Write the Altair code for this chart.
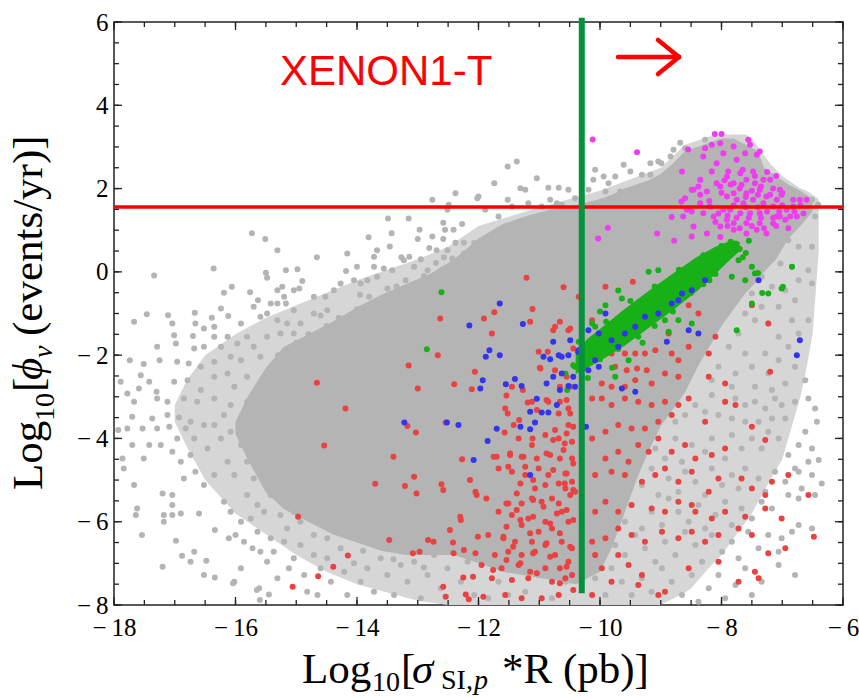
import altair as alt
import pandas as pd

# ---------------- axis ranges / ticks ----------------
X_DOMAIN = [-18, -6]
Y_DOMAIN = [-8, 6]
X_LABELS = [-18, -16, -14, -12, -10, -8, -6]
Y_LABELS = [-8, -6, -4, -2, 0, 2, 4, 6]
X_MINOR = [-18, -17.5, -17, -16.5, -16, -15.5, -15, -14.5, -14, -13.5, -13, -12.5,
           -12, -11.5, -11, -10.5, -10, -9.5, -9, -8.5, -8, -7.5, -7, -6.5, -6]
Y_MINOR = [-8, -7.5, -7, -6.5, -6, -5.5, -5, -4.5, -4, -3.5, -3, -2.5, -2, -1.5, -1,
           -0.5, 0, 0.5, 1, 1.5, 2, 2.5, 3, 3.5, 4, 4.5, 5, 5.5, 6]

# reference lines
XENON_LIMIT = [1.56]
CUT_X = [-10.3]
CUT_Y_TOP = [6.1]
CUT_Y_BOT = [-7.72]

# ---------------- half-filled outer envelope of the grey cloud ----------------
halo_x = [-17.0, -16.8, -16.5, -16.0, -15.5, -15.0, -14.5, -14.0, -13.5, -13.0, -12.5, -12.0,
          -11.0, -10.0, -9.0, -8.6, -8.5, -8.2, -8.0, -7.6, -7.5, -7.2, -7.0, -6.9,
          -6.7, -6.6, -6.5, -6.4]
halo_lo = [-3.6, -4.2, -5.0, -5.8, -6.3, -6.8, -7.2, -7.5, -7.7, -7.9, -8.0, -8.0,
           -8.0, -8.0, -8.0, -7.7, -7.6, -7.1, -6.8, -6.0, -5.8, -5.0, -4.5, -4.0,
           -3.0, -2.3, -1.5, 0.5]
halo_hi = [-3.2, -2.6, -2.0, -1.5, -1.1, -0.8, -0.5, -0.2, 0.05, 0.3, 0.6, 1.1,
           1.55, 1.95, 2.5, 3.05, 3.1, 3.25, 3.3, 3.3, 3.2, 2.6, 2.3, 2.2,
           2.0, 1.95, 1.85, 1.75]

# ---------------- dense grey core ----------------
core_x = [-16.0, -15.8, -15.5, -15.2, -14.8, -14.4, -14.0, -13.6, -13.2, -12.8, -12.4,
          -12.0, -11.6, -11.2, -10.8, -10.4, -10.0, -9.8, -9.6, -9.4, -9.2, -9.0, -8.8,
          -8.6, -8.4, -8.2, -8.0, -7.8, -7.6, -7.4, -7.3, -7.1, -6.9, -6.7, -6.5]
core_lo = [-3.9, -4.5, -5.3, -5.7, -6.0, -6.3, -6.5, -6.7, -6.8, -6.8, -6.8,
           -7.0, -7.2, -7.3, -7.4, -7.5, -7.2, -6.6, -5.8, -5.0, -4.3, -3.7, -3.3,
           -2.9, -2.3, -1.8, -1.3, -0.9, -0.5, -0.2, 0.0, 0.3, 0.8, 1.1, 1.45]
core_hi = [-3.6, -3.0, -2.3, -1.8, -1.5, -1.2, -0.85, -0.55, -0.3, -0.05, 0.3,
           0.8, 1.15, 1.35, 1.5, 1.6, 1.75, 1.85, 2.0, 2.1, 2.2, 2.35, 2.6,
           2.9, 3.0, 3.1, 3.2, 3.2, 3.05, 2.9, 2.5, 2.3, 2.1, 1.95, 1.75]

# ---------------- dense green band ----------------
band_x = [-10.4, -10.2, -9.9, -9.6, -9.2, -8.8, -8.4, -8.1, -7.85, -7.7]
band_lo = [-2.45, -2.3, -2.05, -1.78, -1.35, -0.92, -0.46, -0.05, 0.3, 0.5]
band_hi = [-1.9, -1.6, -1.25, -0.9, -0.46, -0.04, 0.36, 0.6, 0.75, 0.72]

# ---------------- scattered points ----------------
gray_pts = [
    (-12.76, 1.73), (-12.38, 1.89), (-12.49, 1.61), (-12.51, 1.49), (-12.02, 1.77), (-13.49, 1.28),
    (-13.15, 1.28), (-12.58, 1.18), (-12.27, 1.15), (-15.73, 0.93), (-15.51, 0.79), (-15.31, 0.52),
    (-13.81, 0.83), (-13.43, 0.93), (-12.97, 1.01), (-13.0, 0.79), (-12.76, 0.85), (-12.55, 1.01),
    (-12.41, 1.01), (-12.58, 0.79), (-12.38, 0.70), (-12.24, 0.70), (-12.81, 0.57), (-12.69, 0.52),
    (-12.51, 0.52), (-12.24, 0.44), (-12.07, 0.69), (-14.66, 0.35), (-14.16, 0.44), (-13.46, 0.61),
    (-13.67, 0.52), (-13.72, 0.36), (-13.27, 0.35), (-13.14, 0.36), (-16.36, 0.08), (-17.34, -0.09),
    (-15.17, 0.04), (-14.98, 0.06), (-15.5, -0.02), (-15.48, -0.14), (-14.9, -0.22), (-14.18, 0.02),
    (-14.0, 0.12), (-13.72, 0.12), (-13.56, 0.08), (-13.42, 0.04), (-13.23, 0.28), (-13.06, 0.12),
    (-12.84, 0.04), (-12.70, 0.21), (-12.57, 0.35), (-12.43, 0.32), (-12.29, 0.21), (-12.13, 0.04),
    (-16.19, -0.50), (-16.06, -0.36), (-15.76, -0.49), (-15.63, -0.68), (-15.70, -0.84), (-15.31, -0.44),
    (-15.23, -0.36), (-15.20, -0.60), (-15.04, -0.44), (-14.95, -0.40), (-15.42, -0.76), (-15.31, -0.76),
    (-15.17, -0.76), (-15.04, -0.92), (-14.71, -0.60), (-14.52, -0.60), (-14.38, -0.44), (-14.27, -0.28),
    (-14.05, -0.20), (-13.94, -0.28), (-13.83, -0.20), (-13.67, -0.12), (-16.24, -0.88), (-16.12, -1.06),
    (-15.91, -1.24), (-15.59, -1.08), (-15.48, -1.0), (-15.31, -1.16), (-15.15, -1.24), (-14.93, -1.24),
    (-14.71, -1.0), (-14.49, -0.92), (-17.46, -1.02), (-17.67, -1.20), (-17.11, -1.04), (-17.04, -1.24),
    (-16.67, -0.98), (-16.66, -1.24), (-16.39, -1.10), (-16.35, -1.32), (-16.52, -1.36), (-16.70, -1.54),
    (-17.01, -1.52), (-17.29, -1.80), (-17.25, -2.12), (-17.74, -2.12), (-17.51, -2.21), (-16.98, -1.72),
    (-16.68, -1.84), (-16.96, -2.16), (-16.77, -2.20), (-16.52, -1.80), (-16.35, -1.56), (-16.13, -1.56),
    (-16.24, -1.80), (-15.97, -1.72), (-15.81, -1.56), (-15.70, -1.80), (-15.48, -1.56), (-15.26, -1.48),
    (-15.04, -1.48), (-15.91, -2.12), (-16.08, -2.04), (-16.35, -2.16), (-16.57, -2.28), (-15.59, -2.04),
    (-17.56, -2.48), (-17.42, -2.64), (-17.89, -2.64), (-17.01, -2.64), (-17.30, -2.88), (-17.59, -2.80),
    (-17.78, -2.92), (-16.79, -2.60), (-16.57, -2.84), (-16.35, -2.52), (-16.13, -2.44), (-15.81, -2.52),
    (-16.02, -2.76), (-14.5, -1.3), (-14.3, -1.1), (-14.0, -0.9), (-13.8, -0.6), (-13.5, -0.4),
    (-13.2, -0.2), (-12.9, -0.1), (-12.6, 0.05), (-15.3, -2.0), (-15.0, -1.7), (-14.8, -1.5),
    (-15.45, -2.5), (-15.2, -1.9), (-14.6, -1.05), (-13.95, -0.55), (-13.35, -0.35), (-12.95, 0.3),
    (-17.67, -3.12), (-17.29, -3.04), (-17.12, -3.12), (-16.85, -3.04), (-16.63, -3.12), (-16.35, -3.04),
    (-16.08, -3.20), (-15.81, -3.12), (-17.70, -3.48), (-17.53, -3.76), (-17.78, -3.76), (-17.93, -3.80),
    (-17.37, -3.52), (-17.12, -3.44), (-16.93, -3.50), (-17.09, -3.72), (-17.29, -3.76), (-17.42, -4.16),
    (-17.70, -4.16), (-17.86, -4.48), (-17.51, -4.48), (-17.23, -4.16), (-17.04, -4.32), (-16.82, -3.76),
    (-16.68, -4.0), (-16.52, -3.68), (-16.35, -3.68), (-16.19, -3.44), (-16.24, -4.0), (-16.08, -3.84),
    (-15.91, -3.60), (-15.70, -3.44), (-15.75, -4.0), (-15.91, -4.16), (-16.46, -4.24), (-16.74, -4.40),
    (-16.90, -4.56), (-16.66, -4.80), (-16.85, -4.96), (-16.52, -5.12), (-16.35, -4.88), (-16.13, -4.56),
    (-16.02, -4.88), (-15.81, -4.56), (-15.70, -4.96), (-15.59, -4.48), (-16.19, -5.52), (-16.08, -5.76),
    (-15.81, -5.36), (-15.64, -5.60), (-15.91, -6.0), (-15.75, -5.92), (-15.53, -5.76), (-15.42, -5.36),
    (-17.84, -4.72), (-17.67, -5.12), (-17.62, -5.68), (-17.64, -5.84), (-17.20, -5.32), (-17.04, -5.36),
    (-17.04, -5.60), (-17.18, -5.84), (-17.04, -5.84), (-16.90, -5.80), (-16.60, -5.80), (-17.18, -6.0),
    (-17.54, -6.32), (-17.20, -7.08), (-16.98, -6.46), (-16.88, -6.82), (-16.68, -6.72), (-16.48, -6.94),
    (-16.34, -6.20), (-16.34, -7.34), (-16.11, -6.40), (-16.0, -6.32), (-15.91, -7.12), (-16.02, -7.44),
    (-15.86, -6.48), (-15.72, -6.64), (-15.61, -7.60), (-15.59, -6.72), (-15.48, -6.96), (-15.37, -6.72),
    (-15.31, -7.36), (-15.20, -6.48), (-15.12, -7.12), (-15.04, -6.88), (-14.93, -6.56), (-14.87, -7.28),
    (-14.82, -7.68), (-14.71, -6.80), (-14.60, -7.12), (-14.49, -6.88), (-14.43, -7.44), (-14.65, -7.76),
    (-14.27, -6.64), (-14.21, -7.20), (-14.16, -7.76), (-14.05, -7.0), (-13.94, -7.44), (-13.83, -7.12),
    (-13.72, -7.68), (-13.61, -6.88), (-13.50, -7.28), (-13.39, -7.76), (-13.28, -7.04), (-13.17, -7.44),
    (-13.06, -6.96), (-12.95, -7.84), (-12.84, -7.28), (-12.73, -6.80), (-12.62, -7.60), (-12.51, -7.12),
    (-12.40, -6.72), (-12.29, -7.44), (-12.18, -6.96), (-12.07, -7.76), (-12.02, -6.64), (-15.64, -6.24),
    (-15.42, -6.40), (-15.15, -6.16), (-14.93, -6.0), (-14.71, -6.32), (-14.49, -6.40), (-15.26, -5.84),
    (-15.04, -5.76), (-16.74, -6.96), (-16.52, -7.28), (-16.74, -3.60), (-16.96, -4.0), (-16.04, -7.48),
    (-15.65, -7.64), (-15.60, -7.88), (-15.45, -7.75), (-13.9, -6.7), (-13.4, -6.9), (-12.9, -7.1),
    (-8.16, -2.96), (-7.94, -3.12), (-7.77, -3.04), (-7.61, -3.20), (-7.45, -3.12), (-7.28, -3.28),
    (-7.12, -3.04), (-7.01, -3.20), (-6.79, -3.12), (-6.57, -3.04), (-6.46, -3.28), (-6.43, -3.60),
    (-7.17, -3.52), (-6.95, -3.52), (-7.39, -3.60), (-7.61, -3.60), (-7.83, -3.52), (-8.05, -3.44),
    (-8.27, -3.36), (-8.43, -3.20), (-8.60, -3.44), (-8.76, -3.60), (-6.62, -3.84), (-6.51, -4.24),
    (-6.73, -4.16), (-6.90, -4.40), (-7.06, -4.0), (-7.23, -3.84), (-7.34, -4.24), (-7.50, -4.0),
    (-7.67, -4.24), (-7.83, -3.92), (-7.94, -4.48), (-8.16, -4.0), (-8.27, -4.32), (-8.49, -4.16),
    (-8.65, -4.56), (-8.76, -4.0), (-8.93, -4.48), (-9.09, -4.24), (-6.40, -4.52), (-6.57, -4.56),
    (-6.73, -4.80), (-6.35, -5.08), (-6.51, -4.88), (-6.68, -5.20), (-6.79, -4.72), (-6.95, -5.04),
    (-7.12, -4.80), (-7.28, -5.28), (-7.39, -4.96), (-7.61, -4.72), (-7.72, -5.20), (-7.83, -4.88),
    (-7.99, -5.12), (-8.16, -4.72), (-8.27, -5.36), (-8.43, -5.04), (-8.60, -4.80), (-8.71, -5.28),
    (-8.87, -4.96), (-9.04, -5.36), (-9.15, -4.72), (-9.31, -5.12), (-9.42, -4.64), (-6.46, -5.36),
    (-6.73, -5.44), (-6.90, -5.36), (-7.17, -5.68), (-7.34, -5.52), (-7.50, -5.92), (-7.67, -5.68),
    (-7.83, -6.08), (-7.94, -5.52), (-8.10, -5.84), (-8.27, -6.16), (-8.38, -5.60), (-8.54, -6.0),
    (-8.71, -5.76), (-8.87, -5.44), (-8.98, -6.08), (-9.15, -5.76), (-9.31, -6.16), (-9.48, -5.60),
    (-9.59, -6.0), (-6.51, -6.16), (-6.73, -6.08), (-6.84, -6.24), (-7.01, -6.40), (-7.06, -6.72),
    (-7.23, -6.32), (-7.39, -6.64), (-7.56, -6.24), (-7.72, -6.88), (-7.83, -6.48), (-7.99, -6.72),
    (-8.16, -6.32), (-8.32, -6.96), (-8.43, -6.56), (-8.60, -6.24), (-8.76, -6.80), (-8.93, -6.48),
    (-9.09, -6.96), (-9.26, -6.64), (-9.42, -6.32), (-9.59, -6.80), (-9.75, -6.56), (-6.79, -7.28),
    (-7.06, -7.04), (-7.34, -7.44), (-7.50, -7.76), (-7.61, -7.12), (-7.77, -7.52), (-7.94, -7.84),
    (-8.05, -7.28), (-8.21, -7.60), (-8.38, -7.92), (-8.49, -7.28), (-8.65, -7.76), (-8.82, -7.44),
    (-8.98, -7.12), (-9.15, -7.68), (-9.31, -7.36), (-9.48, -7.76), (-9.64, -7.44), (-9.81, -7.12),
    (-9.91, -7.76), (-10.08, -7.36), (-11.89, -6.96), (-11.67, -7.44), (-11.45, -7.12), (-11.23, -7.68),
    (-11.01, -7.28), (-10.79, -7.84), (-10.57, -7.44), (-11.84, -7.84), (-11.51, -7.76), (-10.68, -7.12),
    (-7.03, 0.20), (-6.84, 0.12), (-6.57, 0.04), (-6.73, -0.20), (-6.51, -0.28), (-6.95, -0.44),
    (-7.06, -0.84), (-6.79, -0.68), (-6.57, -1.16), (-6.84, -1.16), (-6.73, -1.48), (-6.90, -1.80),
    (-7.06, -1.56), (-7.23, -1.24), (-7.34, -0.84), (-7.17, -0.36), (-7.34, -0.12), (-7.50, -0.52),
    (-7.61, -1.0), (-7.45, -1.16), (-7.72, -1.48), (-7.88, -1.80), (-7.61, -1.96), (-7.28, -1.96),
    (-7.06, -2.12), (-6.79, -2.28), (-6.62, -2.60), (-6.95, -2.68), (-7.23, -2.44), (-7.50, -2.28),
    (-7.77, -2.44), (-8.05, -2.28), (-8.16, -2.60), (-7.83, -2.76), (-7.45, -2.76), (-7.17, -2.84),
    (-6.51, 0.60), (-6.73, 0.60), (-6.90, 0.76), (-6.51, 1.73), (-6.46, 1.33), (-7.23, 0.52),
    (-6.41, 1.62), (-11.52, 2.53), (-11.37, 2.65), (-11.04, 2.25), (-11.74, 2.13), (-11.31, 2.01),
    (-11.23, 1.97), (-10.85, 2.02), (-10.68, 2.02), (-10.52, 1.97), (-11.52, 1.73), (-12.0, 1.81),
    (-10.82, 1.73), (-10.71, 1.65), (-10.41, 1.77), (-10.08, 2.45), (-9.94, 2.29), (-9.75, 2.29),
    (-9.61, 2.57), (-9.50, 2.41), (-9.31, 2.33), (-9.17, 2.33), (-9.17, 2.61), (-9.04, 2.65),
    (-8.99, 2.61), (-8.68, 3.10), (-8.79, 2.93), (-8.60, 2.97), (-8.49, 2.85), (-8.84, 2.77),
    (-10.11, 2.21), (-9.86, 2.13), (-10.19, 1.97), (-9.91, 1.93), (-9.67, 1.93), (-8.27, 3.17),
    (-11.89, 1.49), (-11.67, 1.33), (-11.45, 1.57), (-11.18, 1.65), (-10.96, 1.57), (-10.63, 1.61),
]

red_pts = [
    (-11.21, -0.14), (-10.60, -0.37), (-11.11, -0.89), (-11.74, -0.97), (-11.91, -1.12), (-12.63, -1.12),
    (-11.78, -1.48), (-12.67, -2.0), (-10.86, -1.92), (-12.06, -2.40), (-10.99, -2.30), (-12.40, -2.70),
    (-12.11, -2.82), (-11.54, -2.97), (-11.27, -2.84), (-11.19, -3.14), (-11.04, -3.32), (-13.15, -2.25),
    (-13.0, -2.80), (-14.66, -2.66), (-14.19, -3.28), (-14.54, -4.17), (-13.40, -4.44), (-13.17, -3.70),
    (-13.03, -3.86), (-13.21, -5.14), (-13.70, -5.09), (-13.06, -4.92), (-13.02, -5.32), (-12.61, -5.10),
    (-12.58, -5.24), (-12.14, -5.0), (-12.27, -4.50), (-12.03, -5.36), (-11.87, -5.44), (-11.70, -4.44),
    (-11.48, -4.36), (-11.26, -4.44), (-10.88, -4.36), (-10.58, -4.12), (-10.60, -4.28), (-11.57, -3.86),
    (-11.52, -3.40), (-11.33, -3.56), (-11.11, -4.0), (-10.77, -4.04), (-10.55, -3.88), (-10.44, -3.72),
    (-10.74, -3.80), (-10.88, -3.08), (-10.55, -3.08), (-10.49, -3.40), (-10.74, -1.32), (-10.49, -1.36),
    (-10.44, -1.84), (-11.51, -4.68), (-11.23, -4.68), (-11.10, -5.0), (-10.77, -4.76), (-10.55, -4.84),
    (-10.44, -4.60), (-10.58, -5.08), (-10.44, -5.24), (-11.10, -5.48), (-11.37, -5.32), (-11.54, -5.56),
    (-11.37, -5.72), (-10.93, -5.64), (-10.71, -5.80), (-10.55, -5.72), (-10.44, -5.96), (-10.82, -6.04),
    (-11.10, -5.88), (-11.31, -5.96), (-11.54, -6.12), (-12.30, -5.88), (-12.47, -6.20), (-12.41, -6.76),
    (-11.59, -6.36), (-11.43, -6.60), (-11.15, -6.28), (-10.88, -6.52), (-10.66, -6.28), (-10.49, -6.60),
    (-10.82, -6.84), (-11.10, -6.76), (-11.31, -7.0), (-11.54, -6.92), (-11.76, -7.16), (-10.55, -7.08),
    (-11.04, -7.24), (-12.58, -7.56), (-12.09, -7.32), (-10.66, -7.48), (-10.44, -7.64), (-12.74, -6.48),
    (-12.83, -6.44), (-13.08, -6.76), (-13.47, -6.44), (-14.39, -7.08), (-14.64, -7.31), (-15.06, -7.56),
    (-14.97, -5.88), (-14.15, -6.81), (-12.97, -6.72), (-12.24, -6.68), (-12.42, -6.50), (-12.29, -5.96),
    (-12.01, -6.36), (-12.05, -6.76), (-12.54, -7.80), (-12.25, -7.34), (-12.21, -7.75), (-12.16, -7.86),
    (-12.05, -5.28), (-12.54, -3.62),
    (-11.56, -3.28), (-11.42, -3.68), (-11.12, -3.12), (-10.85, -3.12), (-10.66, -3.12), (-10.52, -3.28),
    (-10.52, -3.68), (-10.68, -3.40), (-11.34, -4.0), (-11.12, -4.16), (-10.90, -3.92), (-10.68, -4.0),
    (-10.46, -4.08), (-11.75, -4.44), (-11.48, -4.40), (-11.29, -4.44), (-11.04, -4.48), (-10.82, -4.40),
    (-10.66, -4.48), (-10.46, -4.48), (-11.67, -4.72), (-11.45, -4.80), (-11.23, -4.88), (-11.01, -4.72),
    (-10.85, -4.88), (-10.57, -4.84), (-10.46, -5.04), (-11.31, -5.08), (-11.07, -5.20), (-10.90, -5.12),
    (-10.68, -5.08), (-10.57, -5.20), (-10.41, -5.28), (-10.49, -5.36), (-11.51, -5.56), (-11.29, -5.56),
    (-11.12, -5.44), (-10.96, -5.52), (-10.79, -5.44), (-10.68, -5.56), (-11.67, -5.76), (-11.45, -5.84),
    (-11.18, -5.92), (-10.90, -6.0), (-10.63, -5.76), (-10.52, -6.0), (-11.29, -6.08), (-11.01, -6.24),
    (-10.79, -6.16), (-11.84, -6.32), (-11.59, -6.40), (-11.40, -6.48), (-11.12, -6.48), (-10.90, -6.56),
    (-10.63, -6.48), (-10.46, -6.64), (-11.73, -6.80), (-11.51, -6.72), (-11.29, -6.80), (-11.07, -6.72),
    (-10.74, -6.80), (-10.52, -6.96), (-11.95, -7.04), (-11.62, -7.12), (-11.34, -7.04), (-11.15, -7.20),
    (-10.90, -7.12), (-10.66, -7.12), (-10.46, -7.28), (-11.78, -7.36), (-11.45, -7.40), (-11.18, -7.36),
    (-10.79, -7.44), (-10.57, -7.36), (-11.92, -7.80), (-11.56, -7.76), (-11.29, -7.84), (-10.96, -7.84),
    (-10.68, -7.76),
    (-10.13, -3.04), (-9.97, -3.04), (-9.81, -3.20), (-9.59, -3.04), (-9.37, -3.12), (-9.15, -3.20),
    (-8.93, -3.12), (-8.71, -3.20), (-8.54, -3.04), (-8.82, -3.44), (-9.04, -3.60), (-9.26, -3.76),
    (-9.48, -3.76), (-9.70, -3.68), (-9.91, -3.84), (-10.13, -4.0), (-8.27, -3.60), (-7.94, -3.12),
    (-7.77, -3.20), (-7.50, -3.72), (-7.28, -4.04), (-7.94, -4.24), (-8.16, -4.40), (-8.43, -4.48),
    (-8.60, -4.16), (-8.82, -4.32), (-9.04, -4.0), (-9.20, -4.32), (-9.37, -4.16), (-9.53, -4.56),
    (-9.70, -4.32), (-9.91, -4.48), (-10.08, -4.88), (-9.81, -4.80), (-9.59, -4.88), (-9.31, -5.04),
    (-9.09, -4.88), (-8.93, -4.72), (-8.71, -5.04), (-8.49, -4.80), (-8.21, -5.28), (-8.05, -4.96),
    (-7.67, -4.96), (-7.50, -5.20), (-7.17, -5.04), (-6.90, -4.88), (-6.57, -5.36), (-7.28, -5.36),
    (-8.49, -5.60), (-8.71, -5.52), (-8.93, -5.76), (-9.15, -5.68), (-9.48, -5.60), (-9.70, -5.76),
    (-9.91, -5.52), (-10.08, -5.76), (-8.43, -5.76), (-8.16, -5.92), (-7.94, -5.76), (-7.61, -5.88),
    (-7.28, -5.68), (-7.01, -5.92), (-6.48, -6.36), (-6.95, -6.64), (-7.23, -6.76), (-7.50, -6.32),
    (-7.72, -6.16), (-8.05, -6.32), (-8.27, -6.48), (-8.49, -6.24), (-8.71, -6.40), (-8.98, -6.24),
    (-9.26, -6.48), (-9.48, -6.32), (-9.70, -6.16), (-9.91, -6.40), (-10.13, -6.48), (-7.45, -7.20),
    (-7.72, -7.44), (-8.05, -6.96), (-8.54, -7.12), (-8.93, -7.68), (-9.04, -7.76), (-9.31, -7.28),
    (-9.53, -7.04), (-9.81, -7.44), (-9.97, -7.12), (-10.13, -7.76), (-10.08, -6.80), (-9.37, -7.52),
    (-9.70, -6.80), (-7.39, -7.36),
    (-11.15, -1.20), (-9.91, -0.36), (-9.46, -0.24), (-10.35, -0.60), (-10.66, -1.20), (-10.77, -1.40),
    (-10.52, -1.40), (-11.01, -1.92), (-10.98, -2.32), (-10.74, -2.36), (-10.55, -2.52), (-10.66, -2.76),
    (-10.49, -2.76), (-11.45, -2.76), (-10.13, -1.16), (-10.08, -1.80), (-9.81, -1.96), (-9.75, -2.28),
    (-9.59, -1.96), (-9.56, -2.36), (-9.42, -1.96), (-9.39, -2.32), (-9.26, -1.96), (-9.23, -2.36),
    (-9.09, -1.88), (-8.87, -1.48), (-8.82, -1.96), (-8.71, -2.12), (-8.54, -0.80), (-8.38, -1.0),
    (-8.54, -1.80), (-8.21, -1.96), (-8.21, -2.52), (-8.71, -2.52), (-8.93, -2.44), (-9.15, -2.68),
    (-9.42, -2.60), (-9.59, -2.76), (-9.81, -2.76), (-9.97, -2.68), (-7.50, -0.80), (-7.23, -1.24),
    (-8.10, -1.56), (-7.94, -2.68), (-7.20, -2.40),
]

blue_pts = [
    (-11.65, -0.76), (-12.15, -1.29), (-11.27, -1.25), (-10.77, -1.68), (-10.49, -1.64), (-11.82, -1.88),
    (-11.88, -2.04), (-11.65, -2.0), (-10.93, -2.04), (-10.63, -2.04), (-10.52, -2.0), (-10.36, -1.92),
    (-10.82, -2.10), (-10.63, -2.44), (-10.44, -2.52), (-10.77, -2.52), (-10.52, -2.74), (-10.41, -2.76),
    (-10.66, -2.84), (-11.93, -2.60), (-11.97, -2.80), (-11.55, -2.70), (-11.40, -2.57), (-11.29, -2.74),
    (-11.04, -3.05), (-11.15, -3.36), (-10.96, -3.38), (-10.85, -3.38), (-10.71, -3.20), (-11.07, -3.62),
    (-11.31, -3.72), (-11.15, -3.78), (-11.70, -3.77), (-12.33, -3.68), (-12.52, -3.62), (-13.22, -3.62),
    (-11.85, -4.06), (-12.08, -4.52), (-11.15, -4.88), (-10.23, -3.72), (-10.68, -2.0), (-10.35, -1.88),
    (-10.88, -2.68), (-10.19, -1.40), (-10.02, -1.48), (-9.91, -1.0), (-9.81, -1.64), (-9.70, -1.80),
    (-10.08, -2.12), (-10.19, -2.36), (-10.02, -2.28), (-9.59, -1.48), (-9.42, -1.32), (-9.26, -1.08),
    (-9.04, -1.0), (-8.82, -0.76), (-8.65, -0.52), (-8.49, -0.44), (-8.27, -0.20), (-7.39, -0.20),
    (-8.54, -1.40), (-8.38, -1.48), (-8.90, -1.68), (-9.64, -2.80), (-9.42, -2.88), (-6.71, -1.64),
    (-6.76, -2.0), (-8.71, -0.68),
]

green_pts = [
    (-9.04, 0.04), (-7.94, 0.60), (-7.77, 0.68), (-7.72, 0.28), (-7.50, 0.12), (-6.84, 0.12),
    (-7.45, -0.04), (-7.61, -0.20), (-7.83, -0.12), (-7.23, -0.52), (-7.01, -0.40), (-7.50, -0.76),
    (-7.75, -1.40), (-8.93, -1.16), (-8.71, -1.16), (-8.49, -1.24), (-8.87, -1.44), (-9.15, -1.16),
    (-9.64, -0.64), (-9.91, -0.80), (-10.08, -1.32), (-10.35, -1.68), (-10.41, -2.28), (-10.57, -2.44),
    (-9.75, -2.52), (-9.53, -2.12), (-9.37, -1.56), (-10.13, -1.24), (-7.40, -0.03), (-7.33, -0.51),
    (-6.99, -0.36), (-12.61, -0.49), (-12.85, -1.86), (-10.54, -2.84), (-10.44, -2.24), (-7.6, 0.45),
    (-7.7, 0.55), (-8.0, 0.2), (-8.3, -0.3), (-10.25, -2.3), (-10.0, -2.1), (-9.7, -1.85),
    (-9.4, -1.5), (-9.1, -1.3), (-8.8, -0.95), (-8.5, -0.5), (-8.2, -0.2), (-9.9, -1.2),
    (-9.5, -0.7), (-9.1, -0.35), (-8.7, 0.05), (-8.3, 0.4), (-8.0, 0.62), (-7.85, 0.72),
    (-7.55, 0.75), (-7.65, 0.35), (-8.1, -0.05), (-9.3, -1.7), (-9.8, -2.3), (-10.2, -2.55),
    (-9.2, 0.0), (-9.7, -0.45), (-10.0, -0.95),
]

magenta_pts = [
    (-10.12, 3.18), (-9.39, 2.87), (-9.87, 1.06), (-10.03, 0.80), (-9.06, 0.92), (-8.78, 0.75),
    (-8.82, 1.32), (-8.60, 1.77), (-8.55, 2.94), (-8.27, 2.97), (-8.11, 3.31), (-8.0, 3.31),
    (-8.02, 3.09), (-7.97, 2.85), (-8.16, 3.05), (-7.80, 3.01), (-7.56, 3.17), (-7.53, 3.05),
    (-7.61, 2.85), (-7.42, 2.81), (-7.37, 2.89), (-8.08, 2.61), (-7.91, 2.29), (-8.08, 2.13),
    (-8.24, 1.93), (-8.46, 1.97), (-8.35, 2.21), (-8.16, 2.41), (-8.02, 2.05), (-7.91, 1.81),
    (-7.80, 2.13), (-7.69, 2.37), (-7.59, 2.21), (-7.48, 2.41), (-7.31, 2.21), (-7.20, 2.21),
    (-7.37, 1.97), (-7.59, 1.89), (-7.75, 1.73), (-7.64, 1.65), (-7.48, 1.73), (-7.26, 1.81),
    (-7.09, 1.73), (-7.04, 1.97), (-7.15, 1.57), (-6.93, 1.49), (-6.82, 1.73), (-6.71, 1.73),
    (-6.60, 1.73), (-6.76, 1.33), (-6.87, 1.33), (-7.37, 1.41), (-7.53, 1.41), (-7.69, 1.41),
    (-7.86, 1.49), (-7.97, 1.49), (-8.19, 1.57), (-8.30, 1.41), (-8.35, 1.65), (-8.13, 1.33),
    (-7.91, 1.25), (-7.80, 1.17), (-7.59, 1.17), (-7.37, 1.17), (-7.15, 1.17), (-7.04, 1.33),
    (-7.42, 1.01), (-7.26, 0.92), (-7.59, 0.92), (-7.80, 1.01), (-8.02, 1.09), (-8.24, 0.92),
    (-8.02, 0.84), (-8.46, 1.09), (-8.63, 1.33), (-8.49, 1.45), (-8.66, 1.69), (-7.09, 1.33),
    (-7.31, 1.65), (-7.80, 1.89), (-7.67, 2.09), (-7.89, 2.41), (-7.45, 2.13), (-6.82, 1.57),
    (-7.01, 1.85), (-7.75, 2.69), (-8.30, 2.77), (-8.57, 1.49), (-8.49, 0.85), (-8.65, 2.41),
    (-8.49, 1.97), (-8.38, 2.05), (-7.7, 2.0), (-7.5, 1.95), (-7.35, 2.05), (-7.15, 2.0),
    (-7.0, 1.9), (-7.6, 1.8), (-7.4, 1.85), (-7.2, 1.85), (-7.0, 1.6), (-7.8, 1.6),
    (-7.6, 1.55), (-7.4, 1.55), (-7.25, 1.45), (-7.05, 1.45), (-6.95, 1.25), (-7.15, 1.3),
    (-7.35, 1.3), (-7.55, 1.3), (-7.75, 1.3), (-7.9, 1.35), (-8.05, 1.4), (-8.1, 1.2),
    (-7.9, 1.1), (-7.7, 1.05), (-7.5, 1.1), (-7.3, 1.05), (-7.1, 1.1), (-6.9, 1.05),
    (-7.45, 2.3), (-7.65, 2.45), (-7.85, 2.1), (-8.0, 1.9), (-7.25, 2.4), (-7.1, 2.3),
    (-6.8, 1.45), (-6.7, 1.6), (-6.65, 1.4), (-8.2, 1.7), (-8.35, 1.85), (-7.95, 2.2),
]

# ---------------- styling ----------------
W, H = 729, 583
GRAY = "#B4B4B4"
HALO = "#D6D6D6"
RED = "#E84242"
BLUE = "#3434EE"
GREEN = "#17B017"
MAGENTA = "#F03CF0"
SERIF = "Liberation Serif"
FRAME = "#222222"
PT = 36

XS = alt.Scale(domain=X_DOMAIN, nice=False, zero=False)
YS = alt.Scale(domain=Y_DOMAIN, nice=False, zero=False)

LABEL_EXPR = "datum.value < 0 ? '\u2212\u2009' + format(-datum.value, 'd') : format(datum.value, 'd')"

X_AXIS = alt.Axis(values=X_LABELS, title=None, ticks=False, domain=False, grid=False,
                  labelFont=SERIF, labelFontSize=25, labelColor="black", labelPadding=10,
                  labelFlush=False, labelOverlap=False, labelBound=False, labelExpr=LABEL_EXPR)
Y_AXIS = alt.Axis(values=Y_LABELS, title=None, ticks=False, domain=False, grid=False,
                  labelFont=SERIF, labelFontSize=25, labelColor="black", labelPadding=6,
                  labelFlush=False, labelOverlap=False, labelBound=False, labelExpr=LABEL_EXPR)


def X(field):
    return alt.X(field, scale=XS, axis=X_AXIS)


def Y(field):
    return alt.Y(field, scale=YS, axis=Y_AXIS)


def pts_df(pts):
    return pd.DataFrame({"x": [p[0] for p in pts], "y": [p[1] for p in pts]})


def points(pts, color):
    return alt.Chart(pts_df(pts)).mark_circle(size=PT, opacity=1, color=color).encode(
        x=X("x:Q"), y=Y("y:Q"))


def band_area(xs, lo, hi, color):
    return alt.Chart(pd.DataFrame({"x": xs, "lo": lo, "hi": hi})).mark_area(
        color=color, orient="vertical", opacity=1).encode(x=X("x:Q"), y=Y("lo:Q"), y2="hi:Q")


# inward frame ticks
def xticks(vals, length, top):
    y0 = 0 if top else H
    y1 = length if top else H - length
    return alt.Chart(pd.DataFrame({"x": vals})).mark_rule(color=FRAME, strokeWidth=1.3).encode(
        x=X("x:Q"), y=alt.value(y0), y2=alt.value(y1))


def yticks(vals, length, right):
    x0 = W if right else 0
    x1 = W - length if right else length
    return alt.Chart(pd.DataFrame({"y": vals})).mark_rule(color=FRAME, strokeWidth=1.3).encode(
        y=Y("y:Q"), x=alt.value(x0), x2=alt.value(x1))


tick_layers = [
    xticks(X_MINOR, 5, False), xticks(X_LABELS, 8, False),
    xticks(X_MINOR, 5, True), xticks(X_LABELS, 8, True),
    yticks(Y_MINOR, 5, False), yticks(Y_LABELS, 8, False),
    yticks(Y_MINOR, 5, True), yticks(Y_LABELS, 8, True),
]

limit_line = alt.Chart(pd.DataFrame({"y": XENON_LIMIT})).mark_rule(
    color="#FF0000", strokeWidth=3.5).encode(y=Y("y:Q"))

cut_line = alt.Chart(pd.DataFrame({"x": CUT_X, "y": CUT_Y_TOP, "y2": CUT_Y_BOT})).mark_rule(
    color="#06913F", strokeWidth=6).encode(x=X("x:Q"), y=Y("y:Q"), y2="y2:Q")

ONE = pd.DataFrame({"a": [0]})


def txt(text, px, py, size, angle=0, italic=False, color="black", font=SERIF):
    return alt.Chart(ONE).mark_text(
        text=text, font=font, fontSize=size, fontStyle="italic" if italic else "normal",
        angle=angle, align="left", baseline="alphabetic", color=color).encode(
        x=alt.value(px), y=alt.value(py))


def seg(x1, y1, x2, y2):
    return alt.Chart(ONE).mark_rule(color="#FF0000", strokeWidth=4.5, strokeCap="round").encode(
        x=alt.value(x1), y=alt.value(y1), x2=alt.value(x2), y2=alt.value(y2))


annotations = [
    txt("XENON1-T", 166, 63, 42, color="#FF0000", font="Liberation Sans"),
    seg(504, 35, 565, 35), seg(544, 18, 565, 35), seg(544, 52, 565, 35),
    # x title: Log10[sigma_{SI,p}*R (pb)]
    txt("Log", 188, 661, 43),
    txt("10", 258, 669, 28),
    txt("[", 287, 661, 43),
    txt("\u03c3", 298, 661, 43, italic=True),
    txt("SI,", 327, 667, 28),
    txt("p", 360, 667, 28, italic=True),
    txt("*R (pb)]", 388, 661, 43),
    # y title: Log10[phi_nu (events/yr)]
    txt("Log", -72, 468, 43, angle=270),
    txt("10", -60, 399, 28, angle=270),
    txt("[", -72, 370, 43, angle=270),
    txt("\u03d5", -72, 358, 43, angle=270, italic=True),
    txt("\u03bd", -62, 336, 28, angle=270, italic=True),
    txt("(events/yr)]", -72, 314, 43, angle=270),
]

chart = alt.layer(
    band_area(halo_x, halo_lo, halo_hi, HALO),
    band_area(core_x, core_lo, core_hi, GRAY),
    points(gray_pts, GRAY),
    points(red_pts, RED),
    band_area(band_x, band_lo, band_hi, GREEN),
    points(green_pts, GREEN),
    points(blue_pts, BLUE),
    points(magenta_pts, MAGENTA),
    limit_line,
    cut_line,
    *tick_layers,
    *annotations,
).properties(
    width=W, height=H,
    autosize=alt.AutoSizeParams(type="none"),
    padding={"left": 114, "top": 22, "right": 16, "bottom": 93},
    background="white",
).configure_view(stroke=FRAME, strokeWidth=1.5)

chart.save("out.html", embed_options={"renderer": "svg", "actions": False})
